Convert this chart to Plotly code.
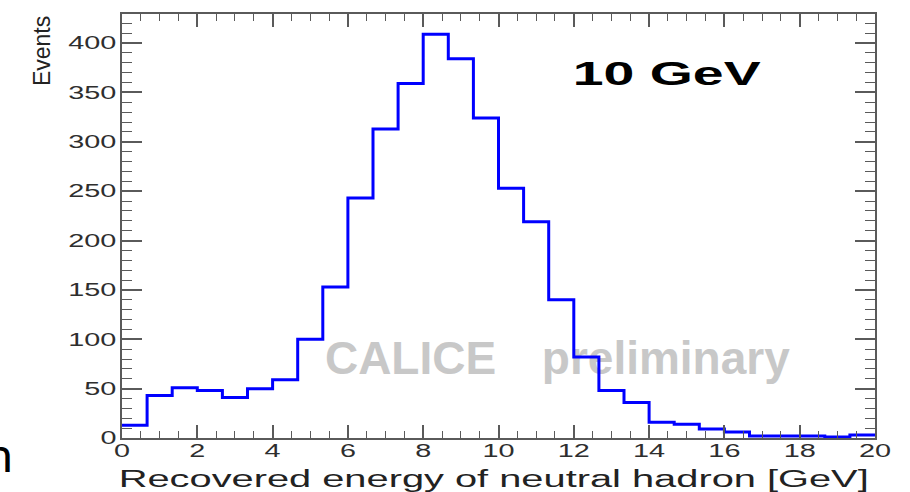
import numpy as np
import plotly.graph_objects as go

# Histogram of recovered neutral-hadron energy, 10 GeV beam
x_min, x_max, n_bins = 0.0, 20.0, 30
bin_edges = np.linspace(x_min, x_max, n_bins + 1)
counts = [13, 43, 51, 48, 41, 50, 59, 100, 153, 243,
          313, 359, 409, 384, 324, 253, 219, 140, 82, 48,
          36, 16, 14, 9, 6, 2, 2, 2, 1, 3]

x_ticks = [0, 2, 4, 6, 8, 10, 12, 14, 16, 18, 20]
y_ticks = [0, 50, 100, 150, 200, 250, 300, 350, 400]

x_title = "Recovered energy of neutral hadron [GeV]"
y_title = "Events"
beam_label = "10 GeV"
watermark = ["CALICE", "preliminary"]

y_top = max(counts) * 1.05

TICK_FONT = dict(family="Liberation Sans", size=18, color="#2e2e2e")
AXIS_COLOR = "#5a5a5a"
MARK_FONT = dict(family="Liberation Sans", size=46, color="#c8c8c8", weight="bold")

fig = go.Figure()

# Watermark sits underneath the histogram outline
for word, wx in zip(watermark, [5.39, 11.15]):
    fig.add_trace(go.Scatter(
        x=[wx], y=[76], mode="text", text=[word],
        textposition="middle right", textfont=MARK_FONT,
        hoverinfo="skip", showlegend=False,
    ))

# Step outline of the histogram
step_x = list(bin_edges)
step_y = list(counts) + [counts[-1]]
fig.add_trace(go.Scatter(
    x=step_x, y=step_y, mode="lines", line_shape="hv",
    line=dict(color="#0000ff", width=3),
    showlegend=False,
))

axis_common = dict(
    showgrid=False, zeroline=False,
    showline=True, linecolor=AXIS_COLOR, linewidth=2,
    mirror="allticks", ticks="inside", tickcolor=AXIS_COLOR, tickwidth=1.5,
    tickfont=TICK_FONT,
)

fig.update_xaxes(
    range=[x_min, x_max], tickvals=x_ticks, ticktext=[str(v) for v in x_ticks],
    ticklen=13,
    minor=dict(dtick=0.5, ticklen=7, ticks="inside", tickcolor=AXIS_COLOR, tickwidth=1.2),
    ticklabelstandoff=-5,
    **axis_common,
)
fig.update_yaxes(
    range=[0, y_top], tickvals=y_ticks, ticktext=[str(v) for v in y_ticks],
    ticklen=20,
    minor=dict(dtick=10, ticklen=10, ticks="inside", tickcolor=AXIS_COLOR, tickwidth=1.2),
    ticklabelstandoff=0,
    **axis_common,
)

fig.update_layout(
    width=910, height=492,
    margin=dict(l=122, r=35, t=14, b=54),
    paper_bgcolor="white", plot_bgcolor="white",
    annotations=[
        dict(text=x_title, xref="paper", yref="paper", x=0.4934, y=-0.097,
             xanchor="center", yanchor="middle", showarrow=False,
             font=dict(family="Liberation Sans", size=23, color="#222222")),
        dict(text=y_title, xref="paper", yref="paper", x=-0.106, y=0.913,
             xanchor="center", yanchor="middle", showarrow=False, textangle=-90,
             font=dict(family="Liberation Sans", size=23, color="#222222")),
        dict(text=beam_label, xref="paper", yref="paper", x=0.7234, y=0.861,
             xanchor="center", yanchor="middle", showarrow=False,
             font=dict(family="Liberation Sans", size=34, color="#000000", weight="bold")),
        dict(text="n", xref="paper", yref="paper", x=-0.1425, y=-0.036,
             xanchor="right", yanchor="middle", showarrow=False,
             font=dict(family="Lato", size=48, color="#000000")),
    ],
)

# The ROOT-style lettering is set wide: widen tick labels, the axis title
# and the beam label along their baseline.
widen_js = """
var gd = document.getElementById('{plot_id}');
function widen(sel, factor, target) {
  gd.querySelectorAll(sel).forEach(function (t) {
    var w = t.getComputedTextLength();
    if (!w) { return; }
    var len = target ? target : w * factor;
    t.setAttribute('textLength', len.toFixed(1));
    t.setAttribute('lengthAdjust', 'spacingAndGlyphs');
  });
}
widen('.xtick text', 1.6);
widen('.ytick text', 1.6);
widen('g.annotation[data-index="0"] text.annotation-text', 1, 750);
widen('g.annotation[data-index="2"] text.annotation-text', 1, 188);
"""

fig.write_html("out.html", post_script=widen_js)
